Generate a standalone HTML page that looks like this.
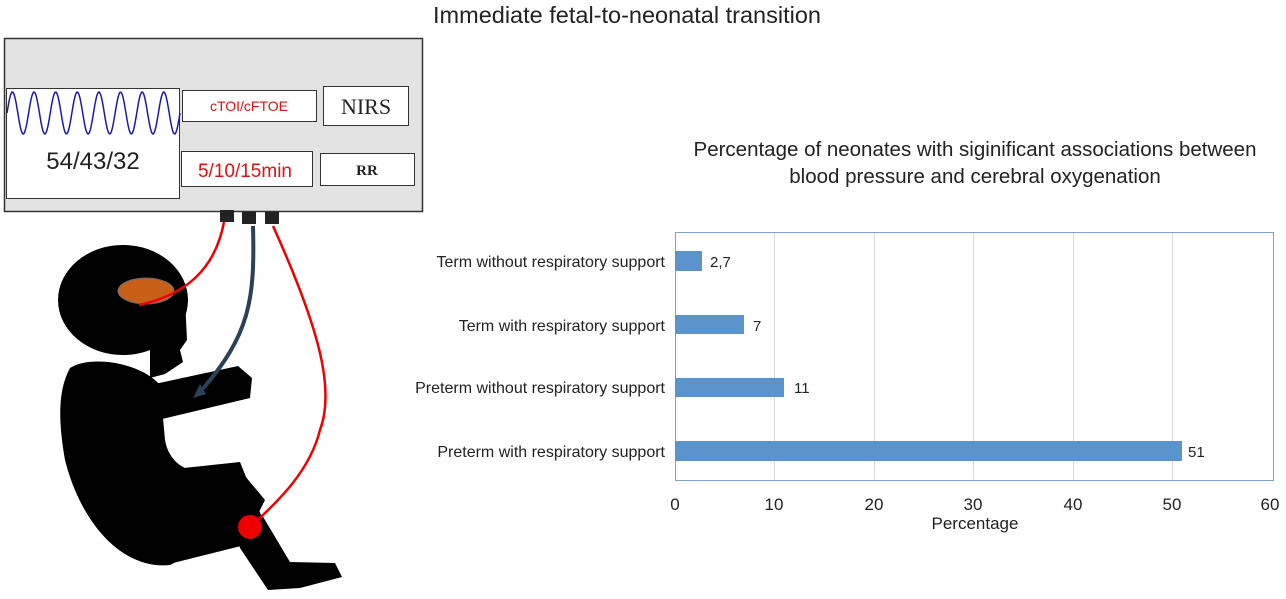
<!DOCTYPE html>
<html><head><meta charset="utf-8"><style>
body{margin:0;background:#fff;width:1286px;height:599px;overflow:hidden;position:relative;font-family:"Liberation Sans",sans-serif}
.a{position:absolute}
</style></head><body>
<svg class="a" style="left:0;top:0" width="1286" height="599" font-family="Liberation Sans, sans-serif">
<text x="627" y="23" font-size="23.5" text-anchor="middle" fill="#222">Immediate fetal-to-neonatal transition</text>
<!-- monitor -->
<rect x="4.5" y="38.5" width="418" height="173" fill="#e3e3e3" stroke="#333" stroke-width="1.5"/>
<rect x="6.5" y="88.5" width="173" height="110" fill="#fff" stroke="#333"/>
<path id="w" fill="none" stroke="#1a1aa8" stroke-width="1.5" d=""/>
<rect x="182.5" y="90.5" width="134" height="31" fill="#fff" stroke="#333"/>
<text x="249" y="111" font-size="14" fill="#d11" text-anchor="middle">cTOI/cFTOE</text>
<rect x="323.5" y="86.5" width="85" height="39" fill="#fff" stroke="#333"/>
<text x="366" y="114" font-size="22" font-family="Liberation Serif, serif" fill="#222" text-anchor="middle">NIRS</text>
<text x="93" y="169" font-size="24" fill="#222" text-anchor="middle">54/43/32</text>
<rect x="181.5" y="151.5" width="131" height="35" fill="#fff" stroke="#333"/>
<text x="245" y="177" font-size="19" fill="#d11" text-anchor="middle">5/10/15min</text>
<rect x="320.5" y="153.5" width="94" height="32" fill="#fff" stroke="#333"/>
<text x="367" y="175" font-size="15" font-weight="bold" font-family="Liberation Serif, serif" fill="#222" text-anchor="middle">RR</text>
<rect x="220" y="210" width="14" height="12" fill="#222"/>
<rect x="242" y="212" width="14" height="12" fill="#222"/>
<rect x="265" y="212" width="14" height="12" fill="#222"/>
<!-- baby -->
<g fill="#000">
<ellipse cx="123" cy="300" rx="65" ry="55"/>
<path d="M150 270 L185 300 L187 340 L180 350 L183 362 L165 374 L150 378 Z"/>
<path d="M70 368 C90 355 140 362 160 385 L165 440 C170 470 200 480 240 470 L265 500 L250 530 C210 545 190 555 170 565 C120 570 80 520 65 460 C58 420 58 390 70 368 Z"/>
<path d="M150 385 L238 366 L252 378 L250 398 L158 420 Z"/>
<path d="M165 470 L240 462 L265 525 L245 545 L165 565 Z"/>
<path d="M232 520 L262 515 L290 562 L335 563 L342 577 L300 588 L268 590 L240 548 Z"/>
</g>
<ellipse cx="146" cy="291" rx="28" ry="13" fill="#c8601a" stroke="#667" stroke-width="1"/>
<path d="M139 305 C185 295 215 270 224 222" fill="none" stroke="#e00" stroke-width="2.5"/>
<path d="M253 226 C255 300 250 335 200 392" fill="none" stroke="#2a4158" stroke-width="4"/>
<path d="M193 398 L200 384 L206 394 Z" fill="#2a4158"/>
<path d="M273 226 C320 330 335 390 320 430 C310 470 280 500 250 527" fill="none" stroke="#e00" stroke-width="2.5"/>
<circle cx="250" cy="527" r="12" fill="#e00"/>
<!-- chart -->
<text x="975" y="156" font-size="20.5" fill="#222" text-anchor="middle">Percentage of neonates with siginificant associations between</text>
<text x="975" y="183" font-size="20.5" fill="#222" text-anchor="middle">blood pressure and cerebral oxygenation</text>
<g stroke="#d8d8d8">
<line x1="774.5" y1="232" x2="774.5" y2="481"/><line x1="874.5" y1="232" x2="874.5" y2="481"/>
<line x1="973.5" y1="232" x2="973.5" y2="481"/><line x1="1073.5" y1="232" x2="1073.5" y2="481"/>
<line x1="1172.5" y1="232" x2="1172.5" y2="481"/>
</g>
<rect x="675.5" y="232.5" width="598" height="248" fill="none" stroke="#7aa3d2"/>
<g fill="#5b93cd">
<rect x="675" y="251" width="27" height="20"/>
<rect x="675" y="315" width="69" height="19"/>
<rect x="675" y="378" width="109" height="19"/>
<rect x="675" y="441" width="507" height="20"/>
</g>
<g font-size="15" fill="#222">
<text x="710" y="267">2,7</text><text x="753" y="331">7</text><text x="794" y="393">11</text><text x="1188" y="457">51</text>
<g text-anchor="end" font-size="16">
<text x="665" y="267">Term without respiratory support</text>
<text x="665" y="331">Term with respiratory support</text>
<text x="665" y="393">Preterm without respiratory support</text>
<text x="665" y="457">Preterm with respiratory support</text>
</g>
<g font-size="17" text-anchor="middle">
<text x="675" y="510">0</text><text x="774" y="510">10</text><text x="874" y="510">20</text><text x="973" y="510">30</text><text x="1073" y="510">40</text><text x="1172" y="510">50</text><text x="1270" y="510">60</text>
<text x="975" y="529">Percentage</text>
</g>
</g>
</svg>
<script>
var d="";for(var x=7;x<=180;x++){var y=113-21*Math.sin((x-7)/173*2*Math.PI*8);d+=(x==7?"M":"L")+x+" "+y.toFixed(1)+" ";}
document.getElementById("w").setAttribute("d",d);
</script>
</body></html>
